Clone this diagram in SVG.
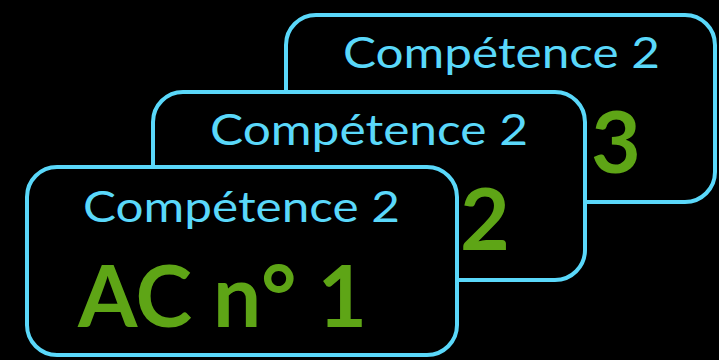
<svg xmlns="http://www.w3.org/2000/svg" width="719" height="360" viewBox="0 0 719 360">
<style>
.card{fill:#000;stroke:#5ad8fa;stroke-width:4}
.t{font-family:Lato,"Open Sans",sans-serif;fill:#5ad8fa;font-size:42px}
.n{font-family:Lato,"Open Sans",sans-serif;fill:#5ea516;font-size:86px;font-weight:bold}
</style>
<rect width="719" height="360" fill="#000"/>
<g id="connectors"></g>
<g id="card3">
<rect class="card" x="286" y="15" width="429" height="187" rx="30"/>
<text class="t" x="343" y="68" textLength="317" lengthAdjust="spacingAndGlyphs">Compétence 2</text>
<text class="n" x="591" y="173">3</text>
</g>
<g id="card2">
<rect class="card" x="153" y="92" width="432" height="188" rx="30"/>
<text class="t" x="210" y="145" textLength="318" lengthAdjust="spacingAndGlyphs">Compétence 2</text>
<text class="n" x="460" y="250">2</text>
</g>
<g id="card1">
<rect class="card" x="27" y="167" width="430" height="188" rx="30"/>
<text class="t" x="83" y="222" textLength="317" lengthAdjust="spacingAndGlyphs">Compétence 2</text>
<text class="n" x="78" y="327" textLength="289" lengthAdjust="spacingAndGlyphs">AC n° 1</text>
</g>
</svg>
